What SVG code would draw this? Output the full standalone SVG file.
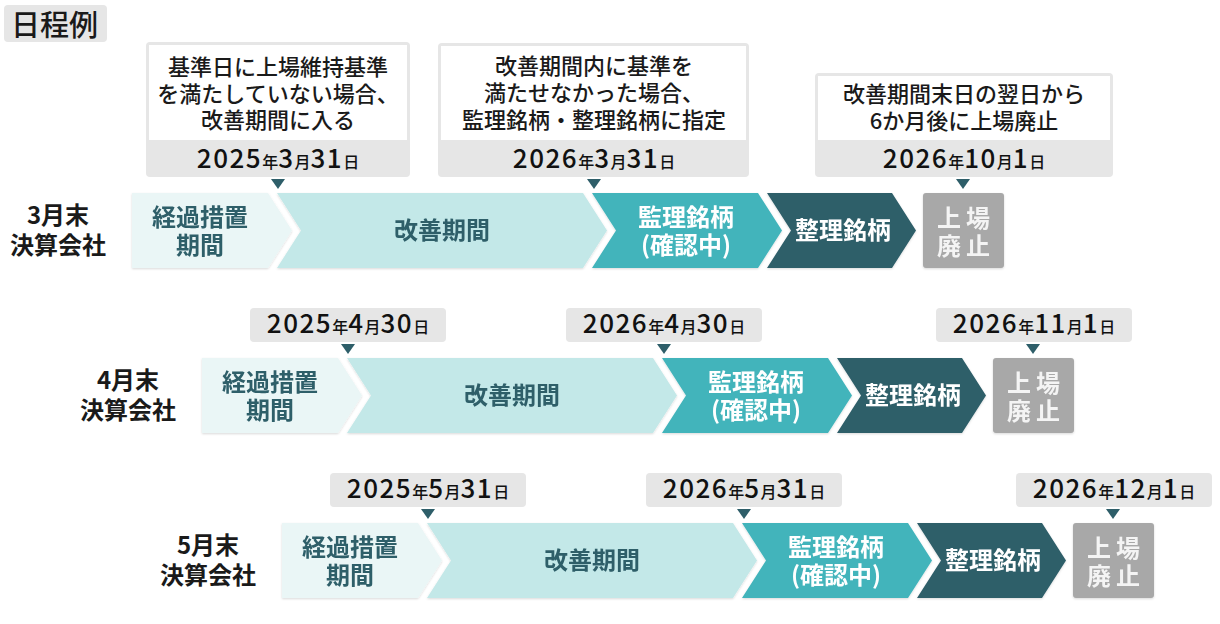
<svg xmlns="http://www.w3.org/2000/svg" width="1220" height="624" viewBox="0 0 1220 624">
<defs>
<style>
text { font-family: "Noto Sans CJK JP", "Noto Sans", sans-serif; }
.title { font-size: 29px; font-weight: 500; fill: #1a1a1a; }
.co { font-size: 22px; font-weight: 500; fill: #1a1a1a; text-anchor: middle; }
.dt { text-anchor: middle; fill: #111; font-weight: 500; }
.dn { font-size: 26px; letter-spacing: 1.5px; }
.dk { font-size: 16px; }
.rl { font-size: 24px; font-weight: 700; fill: #1a1a1a; text-anchor: middle; }
.cl { font-size: 24px; font-weight: 700; text-anchor: middle; }
.dk-t { fill: #2e5e69; }
.wh-t { fill: #ffffff; }
.ex { letter-spacing: 5px; fill: #f4f4f4; }
.band { fill: #e6e6e6; }
.inner { fill: #ffffff; }
.c1 { fill: #eaf6f6; }
.c2 { fill: #c3e8e8; }
.c3 { fill: #42b4bb; }
.c4 { fill: #2e5e69; }
.c5 { fill: #a8a8a8; }
.ptr { fill: #2e5e69; }
</style>
<filter id="sh" x="-5%" y="-10%" width="110%" height="125%">
<feDropShadow dx="0" dy="1" stdDeviation="1" flood-color="#000" flood-opacity="0.15"/>
</filter>
</defs>

<g id="title">
<rect x="4" y="5" width="103" height="37" rx="4" class="band"/>
<text x="11" y="36" class="title">日程例</text>
</g>

<!-- Row 1 : March -->
<g id="row1">
<g id="r1-label">
<text x="58" y="224" class="rl">3月末</text>
<text x="58" y="254" class="rl">決算会社</text>
</g>
<g id="r1-callout1">
<rect x="146" y="42" width="264" height="135" rx="4" class="band"/>
<rect x="149" y="45" width="258" height="95" class="inner"/>
<text x="278" y="75" class="co">基準日に上場維持基準</text>
<text x="278" y="102" class="co">を満たしていない場合、</text>
<text x="278" y="128" class="co">改善期間に入る</text>
<text x="278" y="168" class="dt"><tspan class="dn">2025</tspan><tspan class="dk">年</tspan><tspan class="dn">3</tspan><tspan class="dk">月</tspan><tspan class="dn">31</tspan><tspan class="dk">日</tspan></text>
</g>
<g id="r1-callout2">
<rect x="438" y="43" width="311" height="134" rx="4" class="band"/>
<rect x="441" y="46" width="305" height="94" class="inner"/>
<text x="594" y="74" class="co">改善期間内に基準を</text>
<text x="594" y="101" class="co">満たせなかった場合、</text>
<text x="594" y="128" class="co">監理銘柄・整理銘柄に指定</text>
<text x="594" y="168" class="dt"><tspan class="dn">2026</tspan><tspan class="dk">年</tspan><tspan class="dn">3</tspan><tspan class="dk">月</tspan><tspan class="dn">31</tspan><tspan class="dk">日</tspan></text>
</g>
<g id="r1-callout3">
<rect x="815" y="73" width="298" height="104" rx="4" class="band"/>
<rect x="818" y="76" width="292" height="64" class="inner"/>
<text x="964" y="102" class="co">改善期間末日の翌日から</text>
<text x="964" y="129" class="co">6か月後に上場廃止</text>
<text x="964" y="168" class="dt"><tspan class="dn">2026</tspan><tspan class="dk">年</tspan><tspan class="dn">10</tspan><tspan class="dk">月</tspan><tspan class="dn">1</tspan><tspan class="dk">日</tspan></text>
</g>
<g id="r1-transition" filter="url(#sh)">
<path d="M132,193 H268 L292,230.5 L268,268 H132 Z" class="c1"/>
<text x="200" y="226" class="cl dk-t">経過措置</text>
<text x="200" y="254" class="cl dk-t">期間</text>
</g>
<g id="r1-improve" filter="url(#sh)">
<path d="M277,193 H583 L607,230.5 L583,268 H277 L301,230.5 Z" class="c2"/>
<text x="442" y="239" class="cl dk-t">改善期間</text>
</g>
<g id="r1-supervision" filter="url(#sh)">
<path d="M592,193 H758 L782,230.5 L758,268 H592 L616,230.5 Z" class="c3"/>
<text x="686" y="226" class="cl wh-t">監理銘柄</text>
<text x="686" y="254" class="cl wh-t">(確認中)</text>
</g>
<g id="r1-liquidation" filter="url(#sh)">
<path d="M767,193 H892 L916,230.5 L892,268 H767 L791,230.5 Z" class="c4"/>
<text x="843" y="239" class="cl wh-t">整理銘柄</text>
</g>
<g id="r1-delisting" filter="url(#sh)">
<rect x="923" y="193" width="81" height="75" rx="3" class="c5"/>
<text x="966" y="227" class="cl ex">上場</text>
<text x="966" y="255" class="cl ex">廃止</text>
</g>
</g>

<!-- Row 2 : April -->
<g id="row2" transform="translate(70,165)">
<g id="r2-label">
<text x="58" y="224" class="rl">4月末</text>
<text x="58" y="254" class="rl">決算会社</text>
</g>
<g id="r2-tag1">
<rect x="180" y="143" width="196" height="34" rx="4" class="band"/>
<text x="278" y="168" class="dt"><tspan class="dn">2025</tspan><tspan class="dk">年</tspan><tspan class="dn">4</tspan><tspan class="dk">月</tspan><tspan class="dn">30</tspan><tspan class="dk">日</tspan></text>
</g>
<g id="r2-tag2">
<rect x="496" y="143" width="196" height="34" rx="4" class="band"/>
<text x="594" y="168" class="dt"><tspan class="dn">2026</tspan><tspan class="dk">年</tspan><tspan class="dn">4</tspan><tspan class="dk">月</tspan><tspan class="dn">30</tspan><tspan class="dk">日</tspan></text>
</g>
<g id="r2-tag3">
<rect x="866" y="143" width="196" height="34" rx="4" class="band"/>
<text x="964" y="168" class="dt"><tspan class="dn">2026</tspan><tspan class="dk">年</tspan><tspan class="dn">11</tspan><tspan class="dk">月</tspan><tspan class="dn">1</tspan><tspan class="dk">日</tspan></text>
</g>
<g id="r2-transition" filter="url(#sh)">
<path d="M132,193 H268 L292,230.5 L268,268 H132 Z" class="c1"/>
<text x="200" y="226" class="cl dk-t">経過措置</text>
<text x="200" y="254" class="cl dk-t">期間</text>
</g>
<g id="r2-improve" filter="url(#sh)">
<path d="M277,193 H583 L607,230.5 L583,268 H277 L301,230.5 Z" class="c2"/>
<text x="442" y="239" class="cl dk-t">改善期間</text>
</g>
<g id="r2-supervision" filter="url(#sh)">
<path d="M592,193 H758 L782,230.5 L758,268 H592 L616,230.5 Z" class="c3"/>
<text x="686" y="226" class="cl wh-t">監理銘柄</text>
<text x="686" y="254" class="cl wh-t">(確認中)</text>
</g>
<g id="r2-liquidation" filter="url(#sh)">
<path d="M767,193 H892 L916,230.5 L892,268 H767 L791,230.5 Z" class="c4"/>
<text x="843" y="239" class="cl wh-t">整理銘柄</text>
</g>
<g id="r2-delisting" filter="url(#sh)">
<rect x="923" y="193" width="81" height="75" rx="3" class="c5"/>
<text x="966" y="227" class="cl ex">上場</text>
<text x="966" y="255" class="cl ex">廃止</text>
</g>
</g>

<!-- Row 3 : May -->
<g id="row3" transform="translate(150,330)">
<g id="r3-label">
<text x="58" y="224" class="rl">5月末</text>
<text x="58" y="254" class="rl">決算会社</text>
</g>
<g id="r3-tag1">
<rect x="180" y="143" width="196" height="34" rx="4" class="band"/>
<text x="278" y="168" class="dt"><tspan class="dn">2025</tspan><tspan class="dk">年</tspan><tspan class="dn">5</tspan><tspan class="dk">月</tspan><tspan class="dn">31</tspan><tspan class="dk">日</tspan></text>
</g>
<g id="r3-tag2">
<rect x="496" y="143" width="196" height="34" rx="4" class="band"/>
<text x="594" y="168" class="dt"><tspan class="dn">2026</tspan><tspan class="dk">年</tspan><tspan class="dn">5</tspan><tspan class="dk">月</tspan><tspan class="dn">31</tspan><tspan class="dk">日</tspan></text>
</g>
<g id="r3-tag3">
<rect x="866" y="143" width="196" height="34" rx="4" class="band"/>
<text x="964" y="168" class="dt"><tspan class="dn">2026</tspan><tspan class="dk">年</tspan><tspan class="dn">12</tspan><tspan class="dk">月</tspan><tspan class="dn">1</tspan><tspan class="dk">日</tspan></text>
</g>
<g id="r3-transition" filter="url(#sh)">
<path d="M132,193 H268 L292,230.5 L268,268 H132 Z" class="c1"/>
<text x="200" y="226" class="cl dk-t">経過措置</text>
<text x="200" y="254" class="cl dk-t">期間</text>
</g>
<g id="r3-improve" filter="url(#sh)">
<path d="M277,193 H583 L607,230.5 L583,268 H277 L301,230.5 Z" class="c2"/>
<text x="442" y="239" class="cl dk-t">改善期間</text>
</g>
<g id="r3-supervision" filter="url(#sh)">
<path d="M592,193 H758 L782,230.5 L758,268 H592 L616,230.5 Z" class="c3"/>
<text x="686" y="226" class="cl wh-t">監理銘柄</text>
<text x="686" y="254" class="cl wh-t">(確認中)</text>
</g>
<g id="r3-liquidation" filter="url(#sh)">
<path d="M767,193 H892 L916,230.5 L892,268 H767 L791,230.5 Z" class="c4"/>
<text x="843" y="239" class="cl wh-t">整理銘柄</text>
</g>
<g id="r3-delisting" filter="url(#sh)">
<rect x="923" y="193" width="81" height="75" rx="3" class="c5"/>
<text x="966" y="227" class="cl ex">上場</text>
<text x="966" y="255" class="cl ex">廃止</text>
</g>
</g>

<!-- Connectors: date pointers -->
<g id="connectors" class="ptr">
<path d="M271,179 H285 L278,189 Z"/>
<path d="M587,179 H601 L594,189 Z"/>
<path d="M956,179 H970 L963,189 Z"/>
<path d="M341,344 H355 L348,354 Z"/>
<path d="M657,344 H671 L664,354 Z"/>
<path d="M1026,344 H1040 L1033,354 Z"/>
<path d="M421,509 H435 L428,519 Z"/>
<path d="M737,509 H751 L744,519 Z"/>
<path d="M1106,509 H1120 L1113,519 Z"/>
</g>
</svg>
